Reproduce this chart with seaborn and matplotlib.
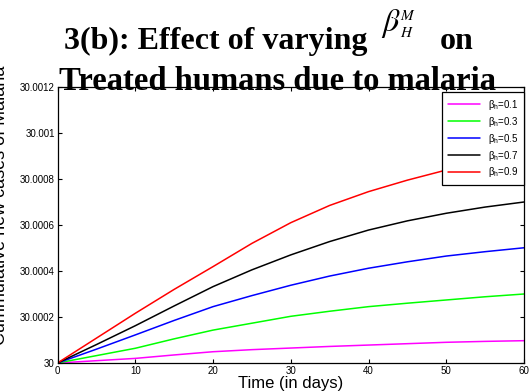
import numpy as np
import pandas as pd
import matplotlib
matplotlib.use("Agg")
import matplotlib.pyplot as plt
import seaborn as sns

# time points (days)
days = [0, 5, 10, 15, 20, 25, 30, 35, 40, 45, 50, 55, 60]

# increase above the baseline of 30 for each beta_h value
beta_01 = [0, 0.000010, 0.000020, 0.000035, 0.000049, 0.000058, 0.000065, 0.000072, 0.000078, 0.000084, 0.000090, 0.000094, 0.000097]
beta_03 = [0, 0.000032, 0.000064, 0.000105, 0.000143, 0.000173, 0.000203, 0.000225, 0.000245, 0.000260, 0.000274, 0.000288, 0.000300]
beta_05 = [0, 0.000060, 0.000122, 0.000185, 0.000245, 0.000293, 0.000338, 0.000378, 0.000412, 0.000440, 0.000465, 0.000484, 0.000501]
beta_07 = [0, 0.000080, 0.000162, 0.000248, 0.000332, 0.000405, 0.000470, 0.000528, 0.000578, 0.000618, 0.000651, 0.000678, 0.000700]
beta_09 = [0, 0.000108, 0.000216, 0.000320, 0.000419, 0.000520, 0.000610, 0.000685, 0.000745, 0.000795, 0.000839, 0.000872, 0.000904]
baseline = 30

labels = [r"$\mathregular{\beta_h}$=0.1", r"$\mathregular{\beta_h}$=0.3",
          r"$\mathregular{\beta_h}$=0.5", r"$\mathregular{\beta_h}$=0.7",
          r"$\mathregular{\beta_h}$=0.9"]
colors = ["#ff00ff", "#00ff00", "#0000ff", "#000000", "#ff0000"]

xticks = [0, 10, 20, 30, 40, 50, 60]
yticks = [30, 30.0002, 30.0004, 30.0006, 30.0008, 30.001, 30.0012]
ytick_labels = ["30", "30.0002", "30.0004", "30.0006", "30.0008", "30.001", "30.0012"]

# long-form table for seaborn
frames = []
for lab, vals in zip(labels, [beta_01, beta_03, beta_05, beta_07, beta_09]):
    frames.append(pd.DataFrame({"Time": days,
                                "Cases": [baseline + v for v in vals],
                                "beta": lab}))
df = pd.concat(frames, ignore_index=True)

sns.set_style("ticks")
plt.rcParams["font.family"] = ["Liberation Sans", "DejaVu Sans"]
plt.rcParams["mathtext.fontset"] = "stix"
plt.rcParams["text.color"] = "black"
plt.rcParams["axes.labelcolor"] = "black"

fig = plt.figure(figsize=(5.3, 3.92), dpi=100)
ax = fig.add_axes([57.5 / 530, 29 / 392, 466.5 / 530, 276 / 392])

sns.lineplot(data=df, x="Time", y="Cases", hue="beta",
             palette=dict(zip(labels, colors)), linewidth=1.1, ax=ax)

ax.set_xlim(0, 60)
ax.set_ylim(30, 30.0012)
ax.set_xticks(xticks)
ax.set_xticklabels([str(t) for t in xticks])
ax.set_yticks(yticks)
ax.set_yticklabels(ytick_labels)
ax.tick_params(direction="in", top=True, right=True, labelsize=7,
               length=3, width=0.8, pad=2, colors="black")
for sp in ax.spines.values():
    sp.set_visible(True)
    sp.set_linewidth(0.9)
    sp.set_color("black")

ax.set_xlabel("Time (in days)", fontsize=12, labelpad=0)
ax.set_ylabel("Cummulative new cases of Malaria", fontsize=13)
ax.yaxis.set_label_coords(-0.104, 0.57)

leg = ax.legend(loc="upper right", bbox_to_anchor=(1.0, 0.982), fontsize=7,
                handlelength=3.3, labelspacing=0.3, borderpad=0.6,
                fancybox=False, framealpha=1, edgecolor="black",
                borderaxespad=0)
leg.get_frame().set_linewidth(0.9)

# two-line title drawn as figure text; beta with its M / H placed by hand
tfont = dict(family="Liberation Serif", fontweight="bold", color="black")
fig.text(367 / 530, 1 - 49 / 392, "3(b): Effect of varying", ha="right",
         va="baseline", fontsize=23, **tfont)
fig.text(381 / 530, 1 - 31 / 392, r"$\beta$", ha="left", va="baseline",
         fontsize=23, color="black")
fig.text(400 / 530, 1 - 20 / 392, r"$M$", ha="left", va="baseline",
         fontsize=11, color="black")
fig.text(400 / 530, 1 - 37 / 392, r"$H$", ha="left", va="baseline",
         fontsize=11, color="black")
fig.text(440 / 530, 1 - 49 / 392, "on", ha="left", va="baseline",
         fontsize=23, **tfont)
fig.text(277.5 / 530, 1 - 90 / 392, "Treated humans due to malaria",
         ha="center", va="baseline", fontsize=23.5, **tfont)

fig.savefig("out.png", dpi=100)
